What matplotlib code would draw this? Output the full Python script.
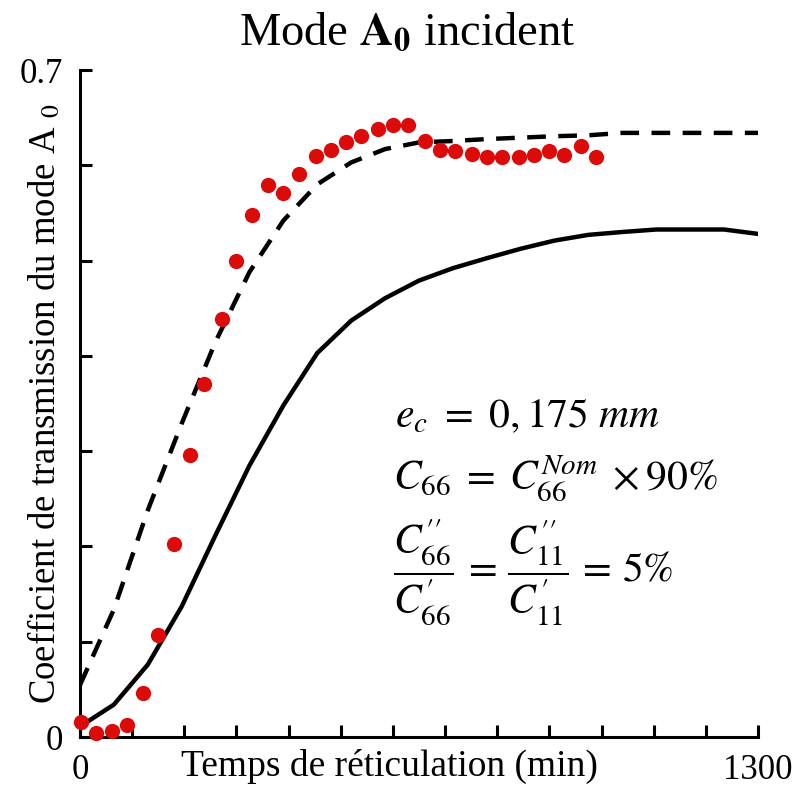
import matplotlib
matplotlib.use("Agg")
import matplotlib.pyplot as plt

plt.rcParams['font.family'] = ['Liberation Serif', 'DejaVu Serif']
plt.rcParams['mathtext.fontset'] = 'stix'

# ---- data ----
model_x = [0, 65, 130, 195, 260, 325, 390, 455, 520, 585, 650, 715, 780,
           845, 910, 975, 1040, 1105, 1170, 1235, 1300]
solid_y = [0.011, 0.034, 0.076, 0.137, 0.212, 0.285, 0.348, 0.403, 0.437,
           0.4605, 0.479, 0.492, 0.5025, 0.5124, 0.521, 0.527, 0.530,
           0.5326, 0.5326, 0.5326, 0.528]
dashed_y = [0.0545, 0.134, 0.238, 0.329, 0.415, 0.488, 0.542, 0.580, 0.603,
            0.617, 0.624, 0.6255, 0.6275, 0.629, 0.6305, 0.6315, 0.634,
            0.634, 0.634, 0.634, 0.634]
exp_x = [1, 30, 62, 91, 120, 149, 181, 210, 238, 272, 300, 329, 361, 390,
         419, 452, 481, 510, 538, 571, 600, 628, 662, 690, 719, 751, 781,
         809, 842, 871, 899, 928, 961, 989]
exp_y = [0.016, 0.0045, 0.0066, 0.0126, 0.0458, 0.1067, 0.203, 0.296, 0.370,
         0.439, 0.500, 0.548, 0.579, 0.571, 0.591, 0.610, 0.6165, 0.6247,
         0.6306, 0.638, 0.642, 0.642, 0.626, 0.6165, 0.615, 0.612, 0.609,
         0.609, 0.609, 0.6105, 0.615, 0.6105, 0.6205, 0.609]
xticks = list(range(0, 1301, 100))
xticklabels = ['0'] + [''] * 12 + ['1300']
yticks = [0, 0.1, 0.2, 0.3, 0.4, 0.5, 0.6, 0.7]
yticklabels = ['0', '', '', '', '', '', '', '0.7']

fig = plt.figure(figsize=(7.98, 7.86), dpi=100)
ax = fig.add_axes([80 / 798, 1 - 737 / 786, 678 / 798, 667 / 786])

ax.plot(model_x, solid_y, color='black', lw=3.2, solid_joinstyle='round')
ax.plot(model_x, dashed_y, color='black', lw=3.2, dashes=(4.2, 2.8))
ax.plot(exp_x, exp_y, 'o', color='#dd0a0a', markersize=11, markeredgewidth=0,
        clip_on=False, zorder=5)

ax.set_xlim(0, 1300)
ax.set_ylim(0, 0.7)
for s in ['top', 'right']:
    ax.spines[s].set_visible(False)
for s in ['left', 'bottom']:
    ax.spines[s].set_linewidth(2.2)
ax.set_xticks(xticks)
ax.set_xticklabels(xticklabels)
ax.set_yticks(yticks)
ax.set_yticklabels(yticklabels)
ax.tick_params(direction='in', length=8.5, width=2.2, labelsize=25, pad=12)
for lab in ax.get_yticklabels():
    lab.set_va('center_baseline')

ax.set_xlabel('Temps de réticulation (min)', fontsize=27)
ax.xaxis.set_label_coords(0.456, -0.018)
ax.set_ylabel(r'Coefficient de transmission du mode A $_{0}$', fontsize=26.5)
ax.yaxis.label.set_va('center')
ax.yaxis.set_label_coords(-0.052, 0.5)

fig.text(407 / 798, 1 - 45 / 786, r'Mode $\mathbf{A_0}$ incident', fontsize=33.5,
         ha='center', va='baseline')

ax.text(0.4646, 0.4648, r'$e_c\ =\ 0,175\ mm$', fontsize=30,
        transform=ax.transAxes, ha='left', va='baseline')
ax.text(0.4617, 0.3703, r'$C_{66}\;=\;C_{66}^{Nom}\;\times 90\%$', fontsize=30,
        transform=ax.transAxes, ha='left', va='baseline')
ax.text(0.4617, 0.2474,
        r"$\dfrac{C_{66}^{\prime\prime}}{C_{66}^{\prime}}\,=\,"
        r"\dfrac{C_{11}^{\prime\prime}}{C_{11}^{\prime}}\,=\,5\%$",
        fontsize=30, transform=ax.transAxes, ha='left', va='center')

fig.savefig('out.png', dpi=100)
